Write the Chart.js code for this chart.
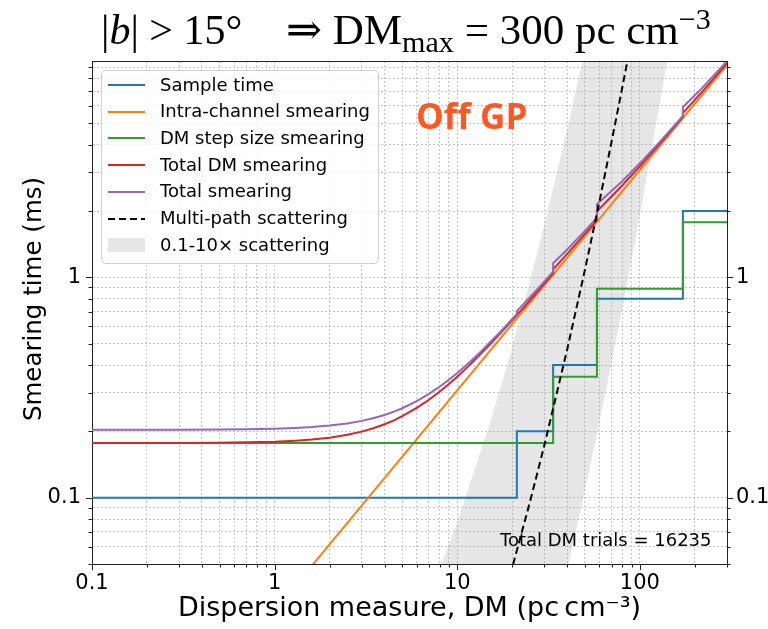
<!DOCTYPE html>
<html>
<head>
<meta charset="utf-8">
<script src="https://cdn.jsdelivr.net/npm/chart.js@4.4.0/dist/chart.umd.min.js"></script>
<style>
html, body { margin: 0; padding: 0; background: #fff; }
</style>
</head>
<body>
<canvas id="chart" width="768" height="629"></canvas>
<script>
// values (DM in pc cm^-3, times in ms)
const sample_edges = [0.1, 21.2, 33.5, 58.2, 172, 300]
const sample_time = [0.1, 0.2, 0.4, 0.8, 2.0]

const step_edges = [0.1, 33.5, 58.2, 172, 300]
const step_smear = [0.177, 0.354, 0.888, 1.78]

const intra_dm = [0.1, 300]
const intra_smear = [0.00307, 9.21]

const total_dm = [0.1, 0.3, 0.5, 0.7, 1, 1.3, 1.6, 2, 2.5, 3, 3.5, 4, 4.5, 5, 6, 7, 8, 9, 10, 11,
                  12, 13.5, 15, 17, 19, 21.2, 21.2, 25, 30, 33.5, 33.5, 40, 50, 58.2, 58.2,
                  80, 100, 130, 172, 172, 220, 300]
const total_dm_smear = [0.1770, 0.1772, 0.1777, 0.1783, 0.1796, 0.1815, 0.1837, 0.1873, 0.1929, 0.1995,
                        0.2071, 0.2154, 0.2245, 0.2343, 0.2555, 0.2784, 0.3027, 0.3281, 0.3544, 0.3813,
                        0.4087, 0.4507, 0.4934, 0.5511, 0.6096, 0.6744, 0.6744, 0.7877, 0.9378, 1.0436,
                        1.0877, 1.278, 1.5753, 1.8214, 1.9952, 2.6116, 3.1958, 4.0886, 5.3541, 5.5719,
                        6.9846, 9.3804]
const total_smear = [0.2033, 0.2035, 0.2039, 0.2044, 0.2056, 0.2072, 0.2092, 0.2124, 0.2173, 0.2232,
                     0.2300, 0.2375, 0.2458, 0.2547, 0.2743, 0.2958, 0.3188, 0.3430, 0.3682, 0.3942,
                     0.4207, 0.4616, 0.5034, 0.5601, 0.6177, 0.6818, 0.7034, 0.8127, 0.9589, 1.0626,
                     1.1589, 1.3391, 1.6253, 1.8648, 2.1496, 2.7314, 3.2945, 4.1661, 5.4135, 5.9200,
                     7.2653, 9.5913]

const scatter_dm = [5, 8, 10, 15, 20, 25, 30, 40, 50, 60, 70, 80, 90, 100, 150, 200, 300]
const scatter_time = [0.00194, 0.00471, 0.00771, 0.0213, 0.0481, 0.0955, 0.173, 0.471, 1.08, 2.20,
                      4.13, 7.23, 12.0, 19.2, 127, 535, 4613]
const scatter_hi = [0.0194, 0.0471, 0.0771, 0.213, 0.481, 0.955, 1.73, 4.71, 10.8, 22.0,
                    41.3, 72.3, 120, 192, 1270, 5350, 46130]
const scatter_lo = [0.000194, 0.000471, 0.000771, 0.00213, 0.00481, 0.00955, 0.0173, 0.0471, 0.108, 0.220,
                    0.413, 0.723, 1.20, 1.92, 12.7, 53.5, 461]

const dm_trials = 16235
const x_range = [0.1, 300]
const y_range = [0.05, 9.6]

const band_color = 'rgba(128,128,128,0.2)'
const sans = 'DejaVu Sans'

const pairs = (xs, ys) => xs.map((x, i) => ({x: x, y: ys[i]}))
const steps = (edges, levels) => {
    let pts = []
    levels.forEach((v, i) => {
        pts.push({x: edges[i], y: v})
        pts.push({x: edges[i + 1], y: v})
    })
    return pts
}
const is_major = (v) => Math.abs(Math.log10(v) - Math.round(Math.log10(v))) < 1e-6
const log_ticks = (min, max) => {
    let out = []
    for (let e = -3; e <= 3; e++) {
        for (let s = 1; s <= 9; s++) {
            const v = parseFloat((s * Math.pow(10, e)).toPrecision(6))
            if (v >= min * 0.999 && v <= max * 1.001) out.push({value: v})
        }
    }
    return out
}
const tick_label = (v) => is_major(v) ? (v < 1 ? v.toFixed(1) : String(Math.round(v))) : ''

const line = (label, data, color, order, extra) => Object.assign({
    label: label,
    data: data,
    borderColor: color,
    backgroundColor: color,
    borderWidth: 2,
    pointRadius: 0,
    fill: false,
    tension: 0,
    order: order,
}, extra || {})

// draws a run of text pieces (normal / sub / sup) from x, returns end x
const draw_run = (ctx, pieces, x, base, fs, serif) => {
    pieces.forEach(p => {
        const size = p.s ? fs * 0.7 : fs
        ctx.font = `${p.i ? 'italic ' : ''}${size}px ${serif}`
        ctx.fillText(p.t, x, base + (p.s === 'sub' ? 8 : p.s === 'sup' ? -15 : 0))
        x += ctx.measureText(p.t).width
    })
    return x
}

// title, frame, tick marks, legend and annotations
const extras = {
    id: 'extras',
    afterDraw(chart) {
        const ctx = chart.ctx
        const a = chart.chartArea
        ctx.save()

        // top spine
        ctx.strokeStyle = '#222'
        ctx.lineWidth = 1
        ctx.beginPath()
        ctx.moveTo(a.left, Math.round(a.top) + 0.5)
        ctx.lineTo(a.right, Math.round(a.top) + 0.5)
        ctx.stroke()

        // tick marks, long for decades
        ;['x', 'y', 'y2'].forEach(id => {
            const sc = chart.scales[id]
            sc.ticks.forEach(t => {
                const len = is_major(t.value) ? 6 : 3.5
                const p = Math.round(sc.getPixelForValue(t.value)) + 0.5
                ctx.beginPath()
                if (id === 'x') { ctx.moveTo(p, a.bottom); ctx.lineTo(p, a.bottom + len) }
                else if (id === 'y') { ctx.moveTo(a.left, p); ctx.lineTo(a.left - len, p) }
                else { ctx.moveTo(a.right, p); ctx.lineTo(a.right + len, p) }
                ctx.stroke()
            })
        })

        // title
        const serif = '"Liberation Serif", "DejaVu Serif", serif'
        ctx.fillStyle = '#000'
        ctx.textBaseline = 'alphabetic'
        ctx.textAlign = 'left'
        draw_run(ctx, [{t: '|'}, {t: 'b', i: true}, {t: '| > 15\u00b0'}], 101, 44, 42, serif)
        draw_run(ctx, [{t: '\u21d2 DM'}, {t: 'max', s: 'sub'}, {t: ' = 300 pc cm'}, {t: '\u22123', s: 'sup'}],
                 286, 44, 43, serif)

        // y axis title
        ctx.save()
        ctx.translate(35, 299)
        ctx.rotate(-Math.PI / 2)
        ctx.font = `24.5px "${sans}"`
        ctx.textAlign = 'center'
        ctx.textBaseline = 'middle'
        ctx.fillText('Smearing time (ms)', 0, 0)
        ctx.restore()

        // legend
        const bx = 101.5, by = 70.5, bw = 277, bh = 193
        ctx.beginPath()
        ctx.roundRect(bx, by, bw, bh, 4)
        ctx.fillStyle = 'rgba(255,255,255,0.85)'
        ctx.fill()
        ctx.strokeStyle = '#d0d0d0'
        ctx.stroke()
        ctx.font = `18px "${sans}"`
        ctx.textBaseline = 'middle'
        let row = 0
        chart.data.datasets.forEach(ds => {
            if (!ds.label) return
            const cy = 85 + row * 26.7
            if (ds.fill) {
                ctx.fillStyle = ds.backgroundColor
                ctx.fillRect(108, cy - 7, 37, 14)
            } else {
                ctx.strokeStyle = ds.borderColor
                ctx.lineWidth = 2
                ctx.setLineDash(ds.borderDash || [])
                ctx.beginPath()
                ctx.moveTo(108, Math.round(cy))
                ctx.lineTo(145, Math.round(cy))
                ctx.stroke()
                ctx.setLineDash([])
            }
            ctx.fillStyle = '#000'
            ctx.fillText(ds.label, 160, cy + 1)
            row++
        })

        // annotations
        ctx.font = 'bold 35px "Open Sans"'
        ctx.fillStyle = '#ff5722'
        ctx.textBaseline = 'alphabetic'
        ctx.fillText('Off GP', 416, 129)
        ctx.font = `18px "${sans}"`
        ctx.fillStyle = '#000'
        ctx.fillText(`Total DM trials = ${dm_trials}`, 500, 546)
        ctx.restore()
    }
}

const grid_opts = {color: '#c8c8c8', lineWidth: 1, drawTicks: false}
const tick_font = {family: sans, size: 21}

const config = {
    type: 'line',
    data: {
        datasets: [
            line('Sample time', steps(sample_edges, sample_time), '#1f77b4', 5),
            line('Intra-channel smearing', pairs(intra_dm, intra_smear), '#ff7f0e', 4),
            line('DM step size smearing', steps(step_edges, step_smear), '#2ca02c', 3),
            line('Total DM smearing', pairs(total_dm, total_dm_smear), '#d62728', 2),
            line('Total smearing', pairs(total_dm, total_smear), '#9467bd', 1),
            line('Multi-path scattering', pairs(scatter_dm, scatter_time), '#000', 0, {borderDash: [7, 4]}),
            line('', pairs(scatter_dm, scatter_hi), 'rgba(0,0,0,0)', 10),
            line('0.1-10\u00d7 scattering', pairs(scatter_dm, scatter_lo), 'rgba(0,0,0,0)', 11,
                 {fill: '-1', backgroundColor: band_color}),
        ]
    },
    options: {
        responsive: false,
        animation: false,
        layout: {padding: {top: 61, left: 0, right: 0, bottom: 0}},
        plugins: {
            legend: {display: false},
            tooltip: {enabled: false},
            filler: {drawTime: 'beforeDatasetsDraw'},
        },
        scales: {
            x: {
                type: 'logarithmic',
                min: x_range[0],
                max: x_range[1],
                grid: grid_opts,
                border: {display: true, color: '#222', width: 1, dash: [2, 2]},
                afterBuildTicks: (sc) => { sc.ticks = log_ticks(sc.min, sc.max) },
                afterFit: (sc) => { sc.height = 65 },
                ticks: {autoSkip: false, maxRotation: 0, padding: 7, color: '#000', font: tick_font, callback: tick_label},
                title: {display: true, text: 'Dispersion measure, DM (pc\u2009cm\u207b\u00b3)', color: '#000',
                        font: {family: sans, size: 27}, padding: {top: 0, bottom: 4}},
            },
            y: {
                type: 'logarithmic',
                position: 'left',
                min: y_range[0],
                max: y_range[1],
                grid: grid_opts,
                border: {display: true, color: '#222', width: 1, dash: [2, 2]},
                afterBuildTicks: (sc) => { sc.ticks = log_ticks(sc.min, sc.max) },
                afterFit: (sc) => { sc.width = 92 },
                ticks: {autoSkip: false, padding: 11, color: '#000', font: tick_font, callback: tick_label},
            },
            y2: {
                type: 'logarithmic',
                position: 'right',
                min: y_range[0],
                max: y_range[1],
                grid: {drawOnChartArea: false, drawTicks: false},
                border: {display: true, color: '#222', width: 1},
                afterBuildTicks: (sc) => { sc.ticks = log_ticks(sc.min, sc.max) },
                afterFit: (sc) => { sc.width = 41 },
                ticks: {autoSkip: false, padding: 9, color: '#000', font: tick_font, callback: tick_label},
            },
        }
    },
    plugins: [extras]
}

new Chart(document.getElementById('chart'), config)
</script>
</body>
</html>
